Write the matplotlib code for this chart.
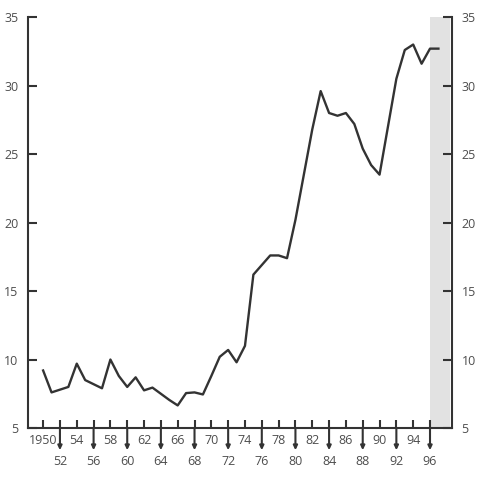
import matplotlib
matplotlib.use("Agg")
import matplotlib.pyplot as plt
import matplotlib.transforms as mtransforms

# valeurs
annees = list(range(1950, 1998))
valeurs = [9.2, 7.6, 7.8, 8.0, 9.7, 8.5, 8.2, 7.9, 10.0, 8.8,
           8.0, 8.7, 7.75, 7.95, 7.5, 7.05, 6.65, 7.55, 7.6, 7.45,
           8.8, 10.2, 10.7, 9.8, 11.0, 16.2, 16.9, 17.6, 17.6, 17.4,
           20.2, 23.5, 26.8, 29.6, 28.0, 27.8, 28.0, 27.2, 25.4, 24.2,
           23.5, 27.0, 30.5, 32.6, 33.0, 31.6, 32.7, 32.7]

annees_haut = list(range(1950, 1996, 4))   # 1950, 54, ..., 94
annees_bas = list(range(1952, 1997, 4))    # 52, 56, ..., 96
labels_haut = ["1950"] + [str(a % 100) for a in annees_haut[1:]]
labels_bas = [str(a % 100) for a in annees_bas]
yticks = [5, 10, 15, 20, 25, 30, 35]

gris = "#333333"
gris_txt = "#4d4d4d"
plt.rcParams['font.family'] = ['Open Sans', 'DejaVu Sans']

fig = plt.figure(figsize=(4.85, 4.8), dpi=100)
ax = fig.add_axes([0.0577, 0.1083, 0.874, 0.856])

ax.axvspan(1996, 1998.4, color="#e2e2e2", lw=0, zorder=0)
ax.plot(annees, valeurs, color=gris, lw=1.7, zorder=3)

ax.set_xlim(1948.2, 1998.6)
ax.set_ylim(5, 35)

ax.spines['top'].set_visible(False)
for s in ['left', 'right', 'bottom']:
    ax.spines[s].set_linewidth(1.5)
    ax.spines[s].set_color(gris)

ax.set_yticks(yticks)
ax.tick_params(axis='y', which='major', direction='in', length=6.5, width=1.5,
               color=gris, labelcolor=gris_txt, labelsize=9, pad=7,
               left=True, right=True, labelleft=True, labelright=True)

# graduations courtes avec étiquettes juste sous l'axe
ax.set_xticks(annees_haut, labels=labels_haut, minor=True)
ax.tick_params(axis='x', which='minor', direction='in', length=5.5, width=1.5,
               color=gris, labelcolor=gris_txt, labelsize=9, pad=4.5)
# graduations longues avec flèche et étiquettes en dessous
ax.set_xticks(annees_bas, labels=labels_bas)
ax.tick_params(axis='x', which='major', direction='in', length=5.5, width=1.5,
               color=gris, labelcolor=gris_txt, labelsize=9, pad=19.5)

trans_bas = ax.get_xaxis_transform() + mtransforms.ScaledTranslation(0, -16 / 72, fig.dpi_scale_trans)
for a in annees_bas:
    ax.annotate('', xy=(a, 0), xycoords=trans_bas,
                xytext=(a, 0), textcoords=ax.get_xaxis_transform(),
                arrowprops=dict(arrowstyle='-|>,head_length=0.25,head_width=0.12',
                                color=gris, lw=1.5, shrinkA=0, shrinkB=0),
                annotation_clip=False)

fig.savefig("out.png", dpi=100)
